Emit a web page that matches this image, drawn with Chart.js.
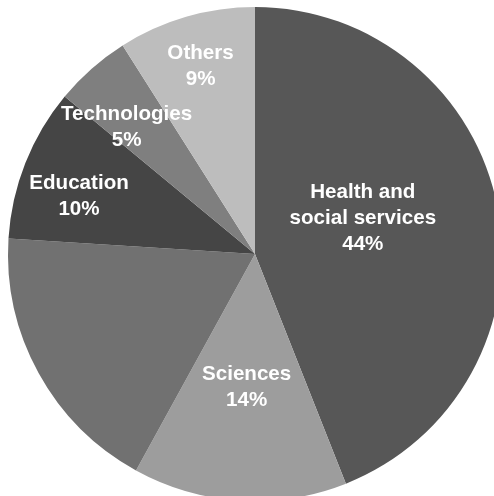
<!DOCTYPE html>
<html>
<head>
<meta charset="utf-8">
<title>Pie</title>
<script src="https://cdn.jsdelivr.net/npm/chart.js@4/dist/chart.umd.min.js"></script>
<style>
  html, body { margin: 0; padding: 0; background: #fff; overflow: hidden; }
  #wrap { width: 510px; height: 510px; }
</style>
</head>
<body>
<div id="wrap"><canvas id="pie" width="510" height="510"></canvas></div>
<script>
  // Data (clockwise from 12 o'clock)
  const categories = ['Health and\nsocial services', 'Sciences', '', 'Education', 'Technologies', 'Others'];
  const shares = [44, 14, 18, 10, 5, 9];
  const showLabel = [true, true, false, true, true, true];
  const sliceColors = ['#575757', '#9d9d9d', '#717171', '#454545', '#7f7f7f', '#bdbdbd'];

  // where each label sits: fraction of radius, angle nudge in degrees
  const labelPlace = [[0.46, -7.6], [0.54, 0], [0.5, 0], [0.75, -3.4], [0.73, -4], [0.79, 0]];

  const LABEL_FONT = 'bold 20.6px "Liberation Sans", Arial, sans-serif';
  const LINE_H = 26;

  const pieLabels = {
    id: 'pieLabels',
    afterDatasetsDraw(chart) {
      const ctx = chart.ctx;
      const meta = chart.getDatasetMeta(0);
      ctx.save();
      ctx.font = LABEL_FONT;
      ctx.fillStyle = '#ffffff';
      ctx.textAlign = 'center';
      ctx.textBaseline = 'middle';
      meta.data.forEach((arc, i) => {
        if (!showLabel[i]) return;
        const p = arc.getProps(['x', 'y', 'startAngle', 'endAngle', 'outerRadius'], true);
        const [f, nudge] = labelPlace[i];
        const mid = (p.startAngle + p.endAngle) / 2 + nudge * Math.PI / 180;
        const cx = p.x + Math.cos(mid) * p.outerRadius * f;
        const cy = p.y + Math.sin(mid) * p.outerRadius * f;
        const lines = categories[i].split('\n').concat([shares[i] + '%']);
        const top = cy - (lines.length - 1) * LINE_H / 2;
        lines.forEach((t, k) => ctx.fillText(t, cx, top + k * LINE_H));
      });
      ctx.restore();
    }
  };

  new Chart(document.getElementById('pie'), {
    type: 'pie',
    data: {
      labels: categories,
      datasets: [{
        data: shares,
        backgroundColor: sliceColors,
        borderWidth: 0
      }]
    },
    options: {
      responsive: false,
      animation: false,
      layout: { padding: { top: 7, bottom: 9, left: 8, right: 8 } },
      plugins: {
        legend: { display: false },
        tooltip: { enabled: false }
      }
    },
    plugins: [pieLabels]
  });
</script>
</body>
</html>
